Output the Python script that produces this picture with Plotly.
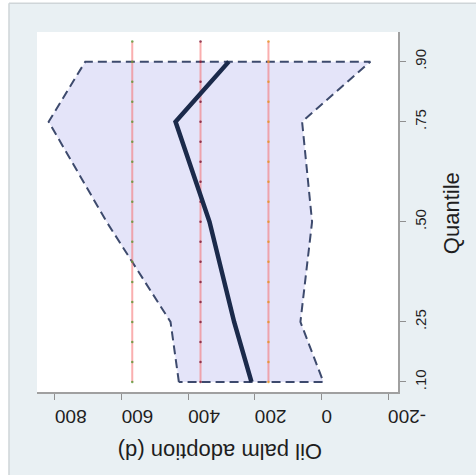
import plotly.graph_objects as go

# Quantile regression results
quantiles = [0.10, 0.25, 0.50, 0.75, 0.90]
coef = [210, 262, 336, 438, 278]
ci_upper = [428, 453, 645, 819, 709]
ci_lower = [-6, 63, 28, 58, -147]

# OLS estimate and its confidence interval
ols_q = [0.10, 0.15, 0.20, 0.25, 0.30, 0.35, 0.40, 0.45, 0.50,
         0.55, 0.60, 0.65, 0.70, 0.75, 0.80, 0.85, 0.90, 0.95]
ols_coef = 363
ols_upper = 568
ols_lower = 159

x_ticks = [800, 600, 400, 200, 0, -200]
y_ticks = [0.10, 0.25, 0.50, 0.75, 0.90]
y_ticklabels = [".10", ".25", ".50", ".75", ".90"]

FONT = "Liberation Sans, Arial, sans-serif"

fig = go.Figure()

# CI band polygon
poly_x = ci_upper + ci_lower[::-1] + [ci_upper[0]]
poly_y = quantiles + quantiles[::-1] + [quantiles[0]]
fig.add_trace(go.Scatter(
    x=poly_x, y=poly_y, mode="lines", fill="toself",
    fillcolor="#e4e4f9",
    line=dict(color="#3d4a6d", width=2, dash="9px,5px"),
    hoverinfo="skip", showlegend=False))

# OLS lines
for val, dot in [(ols_upper, "rgba(90,150,50,0.8)"), (ols_coef, "rgba(120,20,50,0.8)"),
                 (ols_lower, "rgba(230,150,40,0.85)")]:
    fig.add_trace(go.Scatter(
        x=[val] * len(ols_q), y=ols_q, mode="lines+markers",
        line=dict(color="rgba(245,110,110,0.55)", width=2),
        marker=dict(color=dot, size=2.5, line=dict(width=0)),
        hoverinfo="skip", showlegend=False))

# Quantile coefficients
fig.add_trace(go.Scatter(
    x=coef, y=quantiles, mode="lines",
    line=dict(color="#1b2a4b", width=4.5),
    hoverinfo="skip", showlegend=False))

fig.update_layout(
    width=476, height=475,
    margin=dict(l=37, r=78, t=32, b=83, autoexpand=False),
    paper_bgcolor="#e9f0f3",
    plot_bgcolor="white",
    font=dict(family=FONT, color="#1e1e1e"),
    xaxis=dict(
        range=[854, -230], tickvals=x_ticks, ticktext=[str(v) for v in x_ticks],
        tickangle=180, tickfont=dict(size=19, family=FONT),
        ticks="outside", ticklen=6, tickcolor="#909090", ticklabelstandoff=6,
        showline=True, linecolor="#a0a0a0", linewidth=1.5,
        showgrid=False, zeroline=False, fixedrange=True, automargin=False),
    yaxis=dict(
        range=[0.075, 0.974], tickvals=y_ticks, ticktext=y_ticklabels,
        side="right", tickangle=-90, tickfont=dict(size=15, family=FONT),
        ticks="outside", ticklen=6, tickcolor="#909090", ticklabelstandoff=2,
        showline=True, linecolor="#a0a0a0", linewidth=1.5,
        showgrid=False, zeroline=False, fixedrange=True, automargin=False),
    shapes=[
        dict(type="rect", xref="paper", yref="paper",
             x0=-0.2, x1=-0.0776, y0=-0.4, y1=1.3,
             fillcolor="white", line=dict(width=0), layer="above"),
        dict(type="rect", xref="paper", yref="paper",
             x0=-0.2, x1=1.4, y0=1.0797, y1=1.3,
             fillcolor="white", line=dict(width=0), layer="above"),
        dict(type="line", xref="paper", yref="paper",
             x0=-0.0776, x1=-0.0776, y0=-0.4, y1=1.0797,
             line=dict(color="#cfd5d8", width=1.5), layer="above"),
        dict(type="line", xref="paper", yref="paper",
             x0=-0.0776, x1=1.4, y0=1.0797, y1=1.0797,
             line=dict(color="#cfd5d8", width=1.5), layer="above"),
    ],
    annotations=[
        dict(text="Oil palm adoption (d)", xref="paper", yref="paper",
             x=(220 - 37) / 361, y=(392 - 451) / 360.3,
             xanchor="center", yanchor="middle", showarrow=False,
             textangle=180, font=dict(size=22, family=FONT, color="#1e1e1e")),
        dict(text="Quantile", xref="paper", yref="paper",
             x=(451 - 37) / 361, y=(392 - 213) / 360.3,
             xanchor="center", yanchor="middle", showarrow=False,
             textangle=-90, font=dict(size=22, family=FONT, color="#1e1e1e")),
    ],
)

fig.write_html(
    "out.html",
    config={"displayModeBar": False},
    post_script="document.body.style.margin='0';document.body.style.overflow='hidden';",
)
